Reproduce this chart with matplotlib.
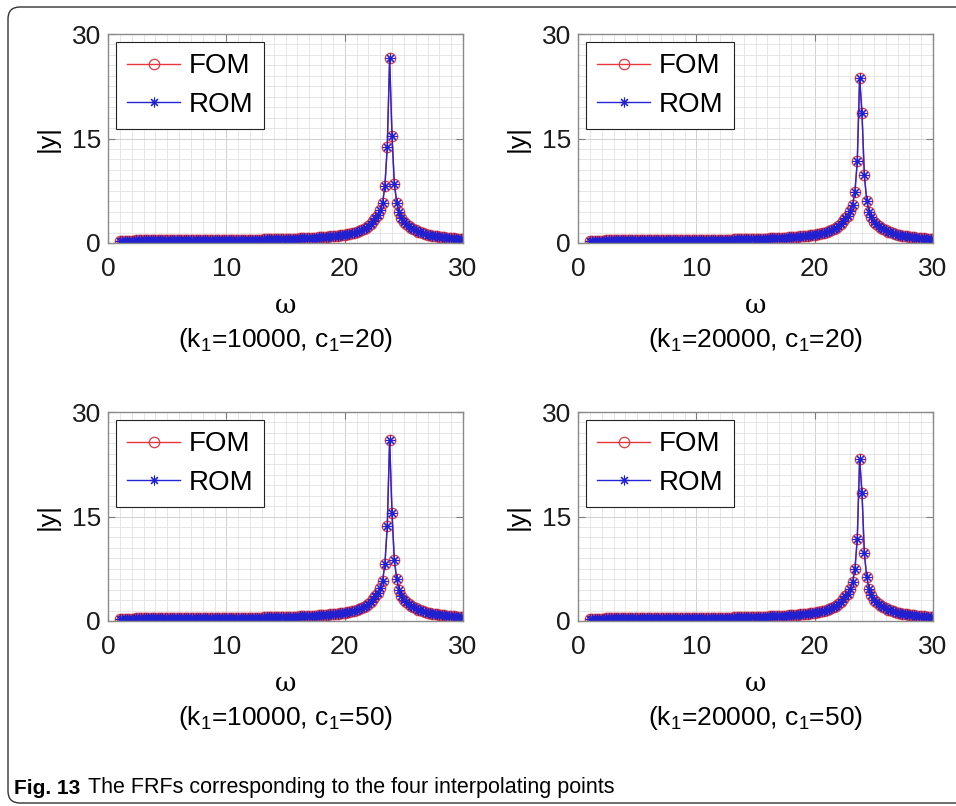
import numpy as np
import matplotlib
matplotlib.use('Agg')
import matplotlib.pyplot as plt
from matplotlib.path import Path
from matplotlib.patches import PathPatch

plt.rcParams['font.family'] = ['Liberation Sans', 'DejaVu Sans']
plt.rcParams['mathtext.fontset'] = 'custom'
plt.rcParams['mathtext.rm'] = 'Liberation Sans'
plt.rcParams['mathtext.it'] = 'Liberation Sans'

# frequency grid 1..30, step 0.2
omega = np.round(np.arange(1.0, 30.0001, 0.2), 1)

# |y| below resonance (omega 1.0 .. 22.6), same for all four cases
tail_low = [
    0.35, 0.35, 0.35, 0.35, 0.35, 0.35, 0.35, 0.36, 0.36, 0.36,
    0.36, 0.36, 0.36, 0.36, 0.36, 0.36, 0.37, 0.37, 0.37, 0.37,
    0.37, 0.37, 0.37, 0.38, 0.38, 0.38, 0.38, 0.38, 0.38, 0.39,
    0.39, 0.39, 0.39, 0.39, 0.39, 0.40, 0.40, 0.40, 0.41, 0.41,
    0.41, 0.41, 0.42, 0.42, 0.42, 0.43, 0.43, 0.44, 0.44, 0.44,
    0.45, 0.45, 0.46, 0.46, 0.47, 0.47, 0.48, 0.48, 0.49, 0.50,
    0.50, 0.51, 0.52, 0.52, 0.53, 0.54, 0.55, 0.56, 0.56, 0.57,
    0.59, 0.60, 0.61, 0.62, 0.63, 0.64, 0.66, 0.67, 0.69, 0.70,
    0.72, 0.74, 0.76, 0.78, 0.80, 0.82, 0.85, 0.88, 0.91, 0.94,
    0.97, 1.01, 1.05, 1.10, 1.15, 1.20, 1.26, 1.33, 1.41, 1.50,
    1.60, 1.71, 1.85, 2.01, 2.20, 2.44, 2.74, 3.12, 3.55,
]

# |y| above resonance (omega 25.0 .. 30.0)
tail_high = [
    3.05, 2.70, 2.42, 2.18, 1.98, 1.80, 1.65, 1.52, 1.41, 1.31,
    1.22, 1.14, 1.07, 1.01, 0.95, 0.90, 0.85, 0.81, 0.77, 0.73,
    0.70, 0.67, 0.64, 0.61, 0.59, 0.56,
]

# resonance region (omega 22.8 .. 24.8) for each parameter point
peak_k10000_c20 = [4.0, 4.7, 5.7, 8.2, 13.8, 26.5, 15.4, 8.5, 5.8, 4.4, 3.6]
peak_k20000_c20 = [3.9, 4.6, 5.5, 7.3, 11.7, 23.7, 18.6, 9.7, 6.1, 4.5, 3.7]
peak_k10000_c50 = [4.0, 4.7, 5.7, 8.2, 13.6, 26.0, 15.5, 8.7, 6.0, 4.5, 3.6]
peak_k20000_c50 = [3.9, 4.6, 5.6, 7.4, 11.8, 23.2, 18.4, 9.7, 6.3, 4.6, 3.7]

titles = ['(k$_1$=10000, c$_1$=20)', '(k$_1$=20000, c$_1$=20)',
          '(k$_1$=10000, c$_1$=50)', '(k$_1$=20000, c$_1$=50)']
peaks = [peak_k10000_c20, peak_k20000_c20, peak_k10000_c50, peak_k20000_c50]

W, H = 956, 806
fig = plt.figure(figsize=(W / 100, H / 100), dpi=100)

# rounded frame around the figure and caption
r = 12
x0, y0, y1 = 8, 7, 803
verts = [(W, y0), (x0 + r, y0), (x0, y0), (x0, y0 + r), (x0, y1 - r),
         (x0, y1), (x0 + r, y1), (W, y1)]
codes = [Path.MOVETO, Path.LINETO, Path.CURVE3, Path.CURVE3, Path.LINETO,
         Path.CURVE3, Path.CURVE3, Path.LINETO]
verts = [(x / W, 1 - y / H) for x, y in verts]
fig.patches.append(PathPatch(Path(verts, codes), transform=fig.transFigure,
                             fill=False, edgecolor='#333333', lw=1.0))

lefts = [108, 578]
bottoms = [243, 621]
aw, ah = 355, 209

star = (8, 2, 0)  # eight-armed asterisk

for i, (peak, title) in enumerate(zip(peaks, titles)):
    fom = np.array(tail_low + peak + tail_high)
    rom = fom.copy()
    assert len(fom) == len(omega)

    lx = lefts[i % 2]
    by = bottoms[i // 2]
    ax = fig.add_axes([lx / W, 1 - by / H, aw / W, ah / H])

    ax.plot(omega, fom, color='#e8363a', lw=1.0, marker='o', ms=7.5,
            mfc='none', mec='#e03a40', mew=0.9, label='FOM')
    ax.plot(omega, rom, color='#2525d8', lw=1.0, marker=star, ms=7,
            mec='#2020d0', mew=0.8, label='ROM')

    ax.set_xlim(0, 30)
    ax.set_ylim(0, 30)
    ax.set_xticks([0, 10, 20, 30])
    ax.set_yticks([0, 15, 30])
    ax.set_xticks(np.arange(0, 31, 1), minor=True)
    ax.set_yticks(np.arange(0, 30.1, 1.5), minor=True)
    ax.grid(True, which='major', color='#d0d0d0', lw=0.7)
    ax.grid(True, which='minor', color='#e2e2e2', lw=0.6)
    ax.set_axisbelow(True)
    ax.tick_params(which='both', direction='in', top=True, right=True,
                   colors='#7a7a7a', labelcolor='#1a1a1a', labelsize=19)
    ax.tick_params(which='major', length=5)
    ax.tick_params(axis='y', which='major', pad=5)
    ax.tick_params(axis='x', which='major', pad=10)
    ax.tick_params(which='minor', length=0)
    for s in ax.spines.values():
        s.set_color('#8a8a8a')
        s.set_linewidth(1.0)

    ax.set_ylabel('|y|', fontsize=19)
    ax.yaxis.set_label_coords(-0.135, 0.5)
    ax.text(0.5, -0.30, 'ω', transform=ax.transAxes, ha='center', va='center',
            fontsize=19, family=['DejaVu Serif'])
    ax.text(0.5, -0.465, title, transform=ax.transAxes, ha='center',
            va='center', fontsize=19)

    leg = ax.legend(loc='upper left', fontsize=20, handlelength=1.9,
                    handletextpad=0.3, borderpad=0.4, labelspacing=0.45,
                    borderaxespad=0.3, fancybox=False, framealpha=1)
    leg.get_frame().set_edgecolor('#222222')
    leg.get_frame().set_linewidth(0.8)

fig.text(14 / W, 1 - 788 / H, 'Fig. 13', fontsize=15, fontweight='bold',
         va='center', ha='left')
fig.text(88 / W, 1 - 788 / H,
         'The FRFs corresponding to the four interpolating points',
         fontsize=15.5, va='center', ha='left')

fig.savefig('out.png', dpi=100)
